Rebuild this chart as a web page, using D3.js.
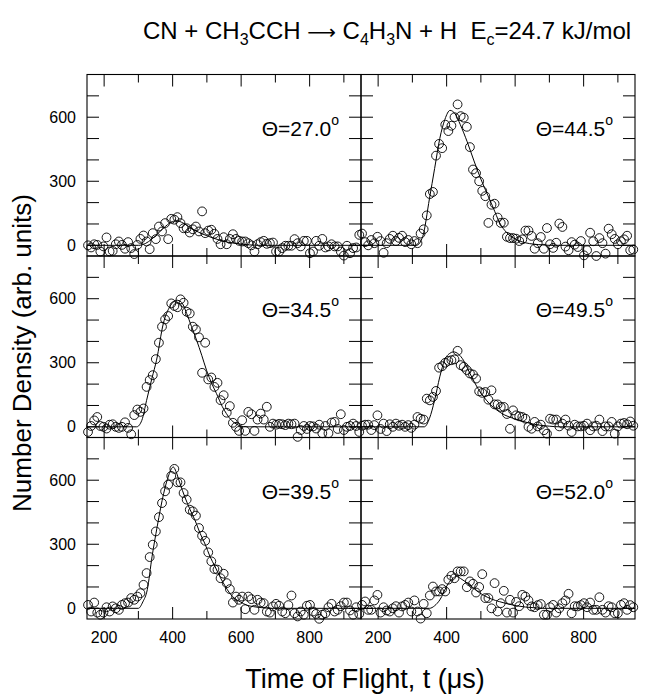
<!DOCTYPE html>
<html lang="en">
<head>
<meta charset="UTF-8">
<title>CN + CH3CCH time-of-flight spectra</title>
<script src="https://d3js.org/d3.v7.min.js"></script>
<style>
  body { margin: 0; background: #fff; }
  svg { display: block; font-family: "Liberation Sans", Arial, sans-serif; }
</style>
</head>
<body>
<svg width="669" height="694"></svg>
<script>
// flight-time channels (us), shared by all six angles
const tof = [153,162,171,180,189,198,207,216,225,234,
             243,252,261,270,279,288,297,306,315,324,
             333,342,351,360,369,378,387,396,405,414,
             423,432,441,450,459,468,477,486,495,504,
             513,522,531,540,549,558,567,576,585,594,
             603,612,621,630,639,648,657,666,675,684,
             693,702,711,720,729,738,747,756,765,774,
             783,792,801,810,819,828,837,846,855,864,
             873,882,891,900,909,918,927,936,945];

const angles = ["27.0", "44.5", "34.5", "49.5", "39.5", "52.0"];

// measured number density (arb. units)
const counts270 = [0,-10,5,2,-29,-5,37,-29,-26,5,
                   18,2,-16,15,-13,-41,2,30,46,18,
                   -18,57,29,88,65,104,29,124,120,132,
                   104,80,80,60,75,88,65,159,57,69,
                   73,54,30,5,38,5,30,52,30,21,
                   18,18,10,0,-29,5,15,21,7,10,
                   13,-29,-29,-13,-2,-2,-2,29,10,-5,
                   21,21,-37,-29,21,-2,30,-10,-5,5,
                   -5,-5,-29,-48,-2,-37,-13,-10,49];
const counts445 = [55,15,0,25,10,40,20,-35,10,30,
                   45,20,35,45,15,25,5,20,10,55,
                   75,140,240,250,420,475,455,565,535,560,
                   600,660,605,598,555,460,355,338,300,255,
                   230,105,190,195,130,105,106,40,34,34,
                   31,20,28,69,69,44,-16,10,39,-16,
                   81,5,-12,12,102,86,-6,-23,15,3,
                   -8,20,-47,-23,59,19,-50,34,10,-39,
                   78,52,30,5,19,28,45,-23,-20];
const counts345 = [-24,4,30,46,4,0,-8,10,12,0,
                   -5,0,21,-5,-35,55,81,70,86,187,
                   219,242,317,394,469,503,519,578,566,560,
                   597,581,539,531,469,456,419,253,394,222,
                   231,187,206,125,148,66,97,19,0,-19,
                   31,-19,70,59,-19,34,62,34,94,0,
                   15,10,14,12,8,15,12,15,-47,-15,
                   4,-10,4,2,-8,10,-30,4,-30,20,
                   23,-10,59,-15,0,4,15,4,-24];
const counts495 = [5,10,10,-15,8,54,-10,15,-20,12,
                   0,15,5,10,0,8,-5,10,46,38,
                   34,132,124,140,168,277,284,300,309,312,
                   316,356,289,281,266,250,245,226,166,159,
                   163,127,171,105,105,93,93,60,-9,77,
                   54,49,46,38,0,-9,23,2,10,-16,
                   -32,38,34,34,2,15,34,5,-24,10,
                   2,2,5,15,-16,2,5,34,-20,2,
                   2,23,-32,2,15,18,12,25,5];
const counts395 = [16,-15,27,-20,-30,-20,5,-15,9,0,
                   -7,16,24,27,48,40,55,71,110,165,
                   240,298,360,427,493,548,579,620,653,590,
                   590,540,509,462,454,434,376,340,316,262,
                   220,184,181,141,162,118,90,27,55,40,
                   55,-4,55,43,-7,40,27,24,-15,-20,
                   9,21,12,-15,-23,15,60,-23,-38,-15,
                   -30,12,16,-15,-26,-49,-30,-23,5,21,
                   -15,-7,10,27,27,-10,-30,5,-26];
const counts520 = [16,32,-7,-7,37,63,-20,5,-10,-15,
                   0,10,-20,9,16,27,-15,37,-15,-48,
                   21,-23,60,102,79,79,90,79,134,152,
                   141,173,173,173,99,126,115,74,100,160,
                   48,48,0,118,-15,24,82,-20,40,-20,
                   30,10,63,55,37,9,5,15,20,-30,
                   -30,5,16,-20,0,24,37,68,-23,10,
                   9,15,24,5,27,-7,-7,52,-7,-20,
                   10,5,-23,-23,16,24,-7,15,5];

// fitted curves (knots: time us, density)
const fitT270 = [150,300,320,340,360,380,400,412,430,450,475,500,530,560,600,650,950];
const fitV270 = [0,0,8,30,60,90,112,115,105,85,62,45,28,15,6,0,0];
const fitT445 = [150,312,330,350,365,380,395,410,425,440,460,480,500,520,536,555,575,600,630,680,700,950];
const fitV445 = [0,0,40,220,360,500,590,632,615,565,485,395,310,235,176,105,60,30,12,2,0,0];
const fitT345 = [150,295,310,324,340,353,373,392,412,425,441,455,470,485,499,515,528,545,557,572,587,600,615,950];
const fitV345 = [0,0,30,124,230,312,485,563,593,585,531,470,406,335,265,200,156,95,62,30,12,3,0,0];
const fitT495 = [150,335,350,365,380,394,410,420,435,449,465,478,493,508,527,547,570,596,620,644,670,700,730,950];
const fitV495 = [0,0,40,125,234,312,345,351,340,312,260,219,175,141,105,78,55,39,27,16,8,3,0,0];
const fitT395 = [150,300,313,326,340,355,374,389,402,410,421,436,451,466,480,495,509,524,538,553,567,582,597,616,636,660,690,950];
const fitV395 = [0,0,30,87,243,383,539,625,662,640,587,520,462,410,352,300,243,195,148,105,70,45,31,15,8,3,0,0];
const fitT520 = [150,350,365,380,404,418,429,445,468,487,507,530,555,580,604,630,653,680,950];
const fitV520 = [0,0,12,39,114,140,149,135,109,83,62,44,31,20,12,6,3,0,0];

const xTicks = [200, 300, 400, 500, 600, 700, 800, 900];
const xTickLabels = [200, 400, 600, 800];
const yTicks = [0, 100, 200, 300, 400, 500, 600, 700];
const yTickLabels = [0, 300, 600];

const panels = [
  { angle: angles[0], counts: counts270, fitT: fitT270, fitV: fitV270 },
  { angle: angles[1], counts: counts445, fitT: fitT445, fitV: fitV445 },
  { angle: angles[2], counts: counts345, fitT: fitT345, fitV: fitV345 },
  { angle: angles[3], counts: counts495, fitT: fitT495, fitV: fitV495 },
  { angle: angles[4], counts: counts395, fitT: fitT395, fitV: fitV395 },
  { angle: angles[5], counts: counts520, fitT: fitT520, fitV: fitV520 }
];

const svg = d3.select("svg");
const plotLeft = 87, plotRight = 635, plotTop = 74.5, rowH = 181.5;
const panelW = (plotRight - plotLeft) / 2;

const x = d3.scaleLinear().domain([150, 950]).range([0, panelW]);
const y = d3.scaleLinear().domain([-50, 800]).range([rowH, 0]);

const line = d3.line()
  .x(d => x(d[0]))
  .y(d => y(d[1]))
  .curve(d3.curveMonotoneX);

panels.forEach((p, i) => {
  const col = i % 2, row = Math.floor(i / 2);
  const g = svg.append("g")
    .attr("transform", `translate(${plotLeft + col * panelW},${plotTop + row * rowH})`);

  g.append("rect")
    .attr("width", panelW).attr("height", rowH)
    .attr("fill", "none").attr("stroke", "#000").attr("stroke-width", 1.1);

  // inward ticks on all four sides
  xTicks.forEach(t => {
    const len = xTickLabels.includes(t) ? 12 : 8;
    g.append("line").attr("x1", x(t)).attr("x2", x(t))
      .attr("y1", rowH).attr("y2", rowH - len)
      .attr("stroke", "#000");
    g.append("line").attr("x1", x(t)).attr("x2", x(t))
      .attr("y1", 0).attr("y2", len)
      .attr("stroke", "#000");
  });
  yTicks.forEach(v => {
    g.append("line").attr("x1", 0).attr("x2", 12)
      .attr("y1", y(v)).attr("y2", y(v)).attr("stroke", "#000");
    g.append("line").attr("x1", panelW).attr("x2", panelW - 12)
      .attr("y1", y(v)).attr("y2", y(v)).attr("stroke", "#000");
  });

  if (col === 0) {
    g.selectAll(".ylab").data(yTickLabels).enter().append("text")
      .attr("x", -11).attr("y", d => y(d) + 5.5)
      .attr("text-anchor", "end").attr("font-size", 16)
      .text(d => d);
  }
  if (row === 2) {
    g.selectAll(".xlab").data(xTickLabels).enter().append("text")
      .attr("x", d => x(d)).attr("y", rowH + 24)
      .attr("text-anchor", "middle").attr("font-size", 16)
      .text(d => d);
  }

  // fit
  g.append("path")
    .datum(d3.zip(p.fitT, p.fitV))
    .attr("fill", "none").attr("stroke", "#000").attr("stroke-width", 1)
    .attr("d", line);

  // data points
  g.selectAll("circle").data(d3.zip(tof, p.counts)).enter().append("circle")
    .attr("cx", d => x(d[0])).attr("cy", d => y(d[1]))
    .attr("r", 4.4)
    .attr("fill", "none").attr("stroke", "#000").attr("stroke-width", 0.9);

  // angle label
  const lab = g.append("text")
    .attr("x", panelW - 22).attr("y", 61)
    .attr("text-anchor", "end").attr("font-size", 21);
  lab.append("tspan").text("\u0398=" + p.angle);
  lab.append("tspan").attr("font-size", 14).attr("dy", -11).text("o");
});

// title with subscripts
const titleParts = [
  ["CN + CH", false], ["3", true], ["CCH ", false], ["\u27f6", false], [" C", false], ["4", true],
  ["H", false], ["3", true], ["N + H\u00a0\u00a0E", false], ["c", true],
  ["=24.7 kJ/mol", false]
];
const title = svg.append("text")
  .attr("x", 143).attr("y", 39).attr("font-size", 24);
titleParts.forEach((tp, k) => {
  const prevSub = k > 0 && titleParts[k - 1][1];
  const ts = title.append("tspan").text(tp[0]);
  if (tp[1]) ts.attr("font-size", 16).attr("dy", 6);
  else if (prevSub) ts.attr("dy", -6);
  if (tp[0] === "\u27f6") ts.attr("font-family", "DejaVu Sans").attr("font-size", 20);
});

svg.append("text")
  .attr("transform", "translate(31,353) rotate(-90)")
  .attr("text-anchor", "middle").attr("font-size", 26)
  .text("Number Density (arb. units)");

svg.append("text")
  .attr("x", 365).attr("y", 688)
  .attr("text-anchor", "middle").attr("font-size", 27)
  .text("Time of Flight, t (\u03bcs)");
</script>
</body>
</html>
